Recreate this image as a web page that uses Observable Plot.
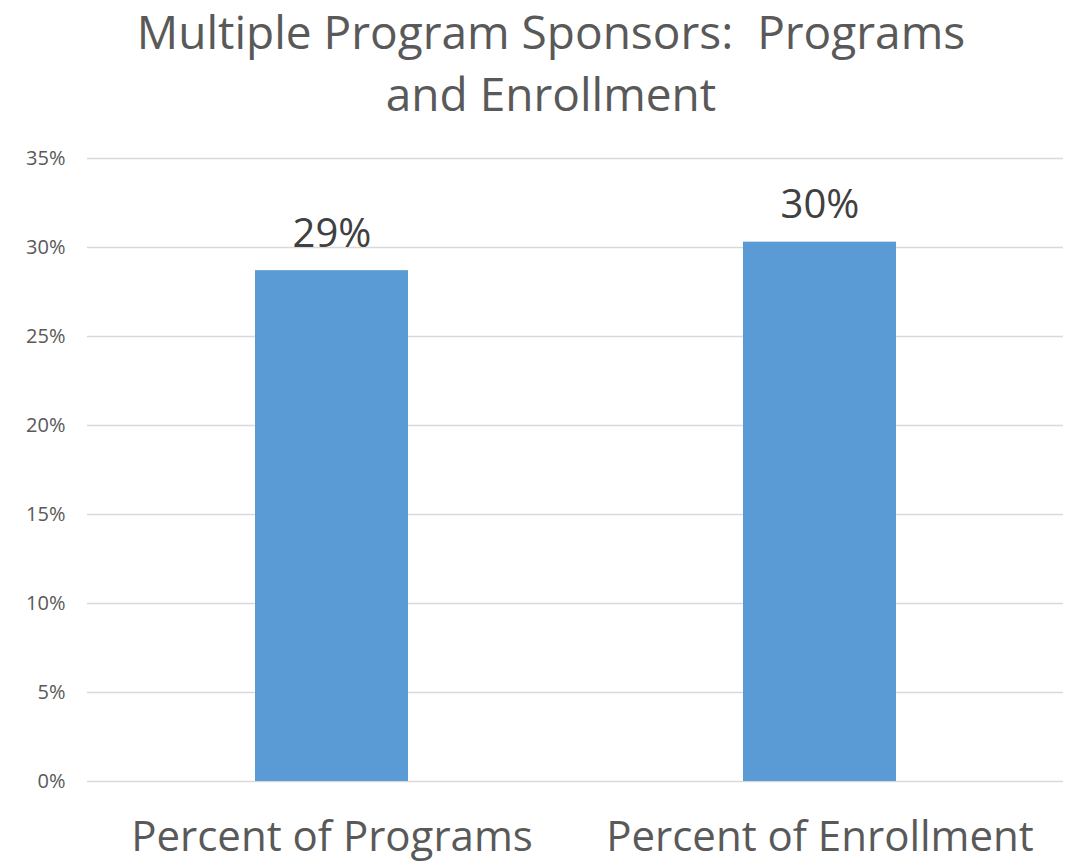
<!DOCTYPE html>
<html>
<head>
<meta charset="utf-8">
<script src="https://cdn.jsdelivr.net/npm/d3@7"></script>
<script src="https://cdn.jsdelivr.net/npm/@observablehq/plot@0.6"></script>
<style>
  html, body { margin: 0; padding: 0; background: #fff; }
  #wrap { width: 1066px; position: relative; font-family: "Open Sans", sans-serif; }
  #title { height: 130px; width: 1102px; text-align: center; color: #595959; font-size: 46px; line-height: 62px; padding-top: 0px; box-sizing: border-box; white-space: nowrap; }
</style>
</head>
<body>
<div id="wrap">
  <div id="title"><div>Multiple Program Sponsors:&nbsp; Programs</div><div>and Enrollment</div></div>
  <div id="chart"></div>
</div>
<script>
const categories = ["Percent of Programs", "Percent of Enrollment"];
const values = [0.287, 0.303];
const labels = ["29%", "30%"];
const yTicks = [0, 0.05, 0.10, 0.15, 0.20, 0.25, 0.30, 0.35];

const data = categories.map((c, i) => ({category: c, value: values[i], label: labels[i]}));

const chart = Plot.plot({
  width: 1066,
  height: 735,
  marginTop: 28,
  marginBottom: 84,
  marginLeft: 87,
  marginRight: 3,
  style: {fontFamily: "'Open Sans', sans-serif", background: "#fff"},
  x: {domain: categories, paddingInner: 0.6865, paddingOuter: 0.343, label: null},
  y: {domain: [0, 0.35], label: null},
  marks: [
    Plot.gridY(yTicks, {stroke: "#d9d9d9", strokeOpacity: 1, strokeWidth: 1.5}),
    Plot.axisY(yTicks, {tickSize: 0, tickPadding: 22, tickFormat: d => Math.round(d * 100) + "%", fontSize: 20, fill: "#595959", label: null}),
    Plot.barY(data, {x: "category", y: "value", fill: "#5B9BD5"}),
    Plot.text(data, {x: "category", y: "value", text: "label", dy: -24, fontSize: 40, fill: "#404040", lineAnchor: "bottom", textAnchor: "middle"}),
    Plot.axisX({tickSize: 0, tickPadding: 40, fontSize: 42, fill: "#595959", label: null})
  ]
});
document.getElementById("chart").appendChild(chart);
</script>
</body>
</html>
